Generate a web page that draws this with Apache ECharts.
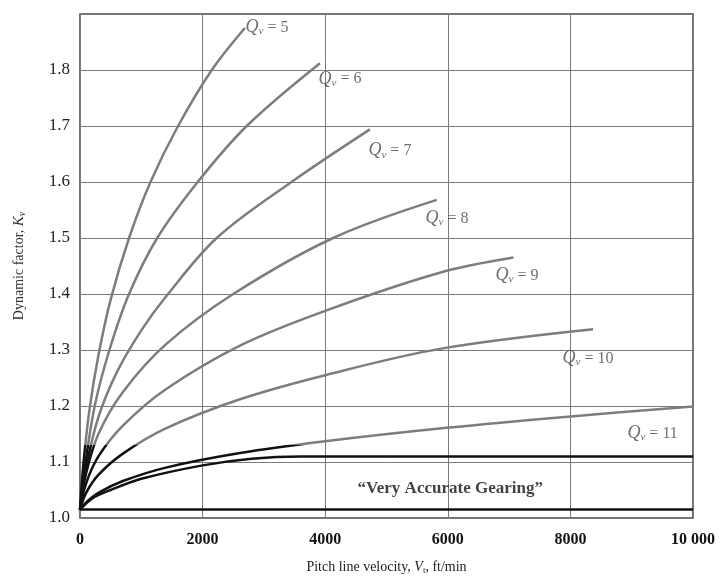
<!DOCTYPE html>
<html>
<head>
<meta charset="utf-8">
<script src="https://cdn.jsdelivr.net/npm/echarts@6/dist/echarts.min.js"></script>
<style>
  html, body { margin: 0; padding: 0; background: #fff; }
  #main { width: 721px; height: 580px; }
</style>
</head>
<body>
<div id="main"></div>
<script>
// pitch line velocity (ft/min) vs dynamic factor Kv
var qv5 = [[0, 1.015], [50, 1.09], [150, 1.19], [300, 1.29], [500, 1.39], [800, 1.5], [1150, 1.6], [1600, 1.7], [2150, 1.8], [2690, 1.875]];
var qv6 = [[0, 1.015], [80, 1.09], [240, 1.2], [480, 1.3], [800, 1.4], [1260, 1.5], [1920, 1.6], [2720, 1.7], [3915, 1.812]];
var qv7 = [[0, 1.015], [100, 1.09], [300, 1.18], [600, 1.26], [1000, 1.335], [1400, 1.395], [2230, 1.5], [3450, 1.6], [4730, 1.694]];
var qv8 = [[0, 1.015], [100, 1.08], [300, 1.15], [700, 1.225], [1400, 1.31], [2500, 1.4], [4130, 1.5], [5820, 1.568]];
var qv9 = [[0, 1.015], [100, 1.062], [300, 1.11], [700, 1.165], [1400, 1.23], [2610, 1.308], [4000, 1.37], [5870, 1.438], [7070, 1.465]];
var qv10 = [[0, 1.015], [100, 1.045], [300, 1.077], [700, 1.115], [1400, 1.16], [2610, 1.212], [4000, 1.255], [5870, 1.302], [8370, 1.337]];
var qv11 = [[0, 1.015], [100, 1.028], [300, 1.045], [700, 1.066], [1400, 1.09], [2610, 1.116], [4000, 1.137], [5980, 1.161], [7960, 1.181], [10000, 1.199]];
// "very accurate gearing" band
var accurateTop = [[0, 1.015], [200, 1.035], [500, 1.05], [1000, 1.07], [2000, 1.094], [2800, 1.106], [3600, 1.11], [10000, 1.11]];
var accurateBottom = [[0, 1.015], [10000, 1.015]];

var qvNames = ["5", "6", "7", "8", "9", "10", "11"];
var yTicks = ["1.0", "1.1", "1.2", "1.3", "1.4", "1.5", "1.6", "1.7", "1.8"];
var blackBelow = 1.13; // curves are printed black under this Kv

// where the Qv labels sit (left edge, middle)
var labelAt = [[2692, 1.876], [3883, 1.784], [4698, 1.656], [5628, 1.535], [6770, 1.433], [7863, 1.285], [8923, 1.151]];

var chart = echarts.init(document.getElementById("main"));

var curves = [qv5, qv6, qv7, qv8, qv9, qv10, qv11];
var series = [];
curves.forEach(function (d, i) {
  series.push({
    name: "Qv=" + qvNames[i],
    type: "line",
    data: d,
    smooth: 0.35,
    showSymbol: false,
    lineStyle: { width: 2.5, color: "#7d7d7d" },
    z: 3,
  });
});
series.push({
  type: "line", data: accurateTop, smooth: 0.3, showSymbol: false,
  lineStyle: { width: 2.5, color: "#111" }, z: 2,
});
series.push({
  type: "line", data: accurateBottom, showSymbol: false,
  lineStyle: { width: 2.5, color: "#111" }, z: 2,
});
// Qv labels
series.push({
  type: "scatter",
  symbolSize: 1,
  itemStyle: { color: "rgba(0,0,0,0)" },
  data: labelAt.map(function (p, i) { return { value: p, name: qvNames[i] }; }),
  label: {
    show: true,
    position: "right",
    distance: 0,
    formatter: function (p) { return "{q|Q}{s|v}{t| = " + p.name + "}"; },
    rich: {
      q: { fontFamily: "Liberation Serif", fontStyle: "italic", fontSize: 18, color: "#4a4a4a" },
      s: { fontFamily: "Liberation Serif", fontStyle: "italic", fontSize: 11, color: "#4a4a4a", padding: [8, 0, 0, 0] },
      t: { fontFamily: "Liberation Serif", fontSize: 16, color: "#4a4a4a" },
    },
  },
  silent: true,
  z: 5,
});
series.push({
  type: "scatter",
  symbolSize: 1,
  itemStyle: { color: "rgba(0,0,0,0)" },
  data: [{ value: [6040, 1.053], name: "\u201CVery Accurate Gearing\u201D" }],
  label: {
    show: true, position: "inside",
    formatter: "{b}",
    fontFamily: "Liberation Serif", fontWeight: "bold", fontSize: 17, color: "#111",
  },
  silent: true,
  z: 5,
});

var option = {
  animation: false,
  backgroundColor: "#fff",
  grid: { left: 80, right: 28, top: 14, bottom: 58, show: true, borderColor: "#444", borderWidth: 1.5 },
  xAxis: {
    type: "value",
    min: 0, max: 10000, interval: 2000,
    name: "Pitch line velocity, {i|V}{s|t}, ft/min",
    nameLocation: "middle",
    nameGap: 42,
    nameTextStyle: {
      fontFamily: "Liberation Serif", fontSize: 14, color: "#222",
      rich: {
        i: { fontFamily: "Liberation Serif", fontStyle: "italic", fontSize: 14, color: "#222" },
        s: { fontFamily: "Liberation Serif", fontSize: 9, color: "#222", padding: [6, 0, 0, 0] },
      },
    },
    axisLine: { show: false },
    axisTick: { show: false },
    axisLabel: {
      margin: 14,
      fontFamily: "Liberation Serif", fontWeight: "bold", fontSize: 16, color: "#111",
      formatter: function (v) { return v === 10000 ? "10 000" : String(v); },
    },
    splitLine: { show: true, lineStyle: { color: "#7a7a7a", width: 1 } },
  },
  yAxis: {
    type: "value",
    min: 1.0, max: 1.9, interval: 0.1,
    name: "Dynamic factor, {i|K}{s|v}",
    nameLocation: "middle",
    nameGap: 53,
    nameRotate: 90,
    nameTextStyle: {
      fontFamily: "Liberation Serif", fontSize: 14, color: "#333",
      rich: {
        i: { fontFamily: "Liberation Serif", fontStyle: "italic", fontSize: 15, color: "#333" },
        s: { fontFamily: "Liberation Serif", fontStyle: "italic", fontSize: 10, color: "#333", padding: [6, 0, 0, 0] },
      },
    },
    axisLine: { show: false },
    axisTick: { show: false },
    axisLabel: {
      margin: 10,
      fontFamily: "Liberation Serif", fontSize: 17, color: "#222",
      formatter: function (v) {
        var s = v.toFixed(1);
        return yTicks.indexOf(s) >= 0 ? s : "";
      },
    },
    splitLine: { show: true, lineStyle: { color: "#7a7a7a", width: 1 } },
  },
  series: series,
};

chart.setOption(option);

// grey above the threshold, black below it (pixel split taken from the y axis)
var cut = chart.convertToPixel({ gridIndex: 0 }, [0, blackBelow])[1] / 580;
var twoTone = {
  type: "linear", x: 0, y: 0, x2: 0, y2: 580, global: true,
  colorStops: [
    { offset: 0, color: "#7d7d7d" },
    { offset: cut, color: "#7d7d7d" },
    { offset: cut, color: "#111" },
    { offset: 1, color: "#111" },
  ],
};
chart.setOption({
  series: curves.map(function () { return { lineStyle: { color: twoTone } }; }),
});
</script>
</body>
</html>
